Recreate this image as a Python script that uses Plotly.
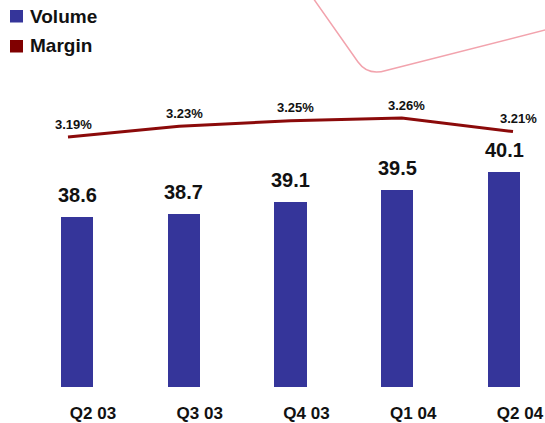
import plotly.graph_objects as go

# Quarterly volume and margin
quarters = ["Q2 03", "Q3 03", "Q4 03", "Q1 04", "Q2 04"]
volume = [38.6, 38.7, 39.1, 39.5, 40.1]
margin = [3.19, 3.23, 3.25, 3.26, 3.21]
margin_labels = ["3.19%", "3.23%", "3.25%", "3.26%", "3.21%"]

W, H = 545, 423
MT, MB = 0, 36
PLOT_H = H - MT - MB

BAR_COLOR = "#35359a"
LINE_COLOR = "#8b0a0a"
FONT = "Liberation Sans, Arial, sans-serif"


def px(x, y):
    """Convert page pixels to paper coordinates."""
    return x / W, (H - MB - y) / PLOT_H


fig = go.Figure()

fig.add_trace(go.Bar(
    x=quarters, y=volume, width=0.3,
    marker=dict(color=BAR_COLOR, line=dict(width=0)),
    base=0, name="Volume", showlegend=False,
    xaxis="x", yaxis="y",
))

fig.add_trace(go.Scatter(
    x=quarters, y=margin, mode="lines",
    line=dict(color=LINE_COLOR, width=3),
    name="Margin", showlegend=False,
    xaxis="x2", yaxis="y2",
))

annotations = []
for q, v in zip(quarters, volume):
    annotations.append(dict(
        x=q, y=v, xref="x", yref="y", text=f"<b>{v:.1f}</b>",
        showarrow=False, yanchor="middle", yshift=21.5,
        font=dict(family=FONT, size=20, color="#111111"),
    ))
for q, m, lab in zip(quarters, margin, margin_labels):
    annotations.append(dict(
        x=q, y=m, xref="x2", yref="y2", text=f"<b>{lab}</b>",
        showarrow=False, yanchor="middle", yshift=13, xshift=5,
        font=dict(family=FONT, size=13, color="#111111"),
    ))

# Legend: coloured squares with bold labels
shapes = []
for name, color, cy in [("Volume", BAR_COLOR, 16), ("Margin", "#800000", 46)]:
    x0, y0 = px(10, cy - 6)
    x1, y1 = px(23, cy + 6.5)
    shapes.append(dict(type="rect", xref="paper", yref="paper",
                       x0=x0, x1=x1, y0=y1, y1=y0,
                       fillcolor=color, line=dict(width=0)))
    tx, ty = px(28, cy)
    annotations.append(dict(
        x=tx, y=ty, xref="paper", yref="paper", text=f"<b>{name}</b>",
        showarrow=False, xanchor="left", yanchor="middle",
        font=dict(family=FONT, size=19, color="#111111"),
    ))

# Decorative rounded corner line at the top right
pts = [px(313, -2), px(358, 62), px(368, 76), px(386, 70.5), px(547, 29.5)]
path = "M {0[0]},{0[1]} L {1[0]},{1[1]} Q {2[0]},{2[1]} {3[0]},{3[1]} L {4[0]},{4[1]}".format(*pts)
shapes.append(dict(type="path", xref="paper", yref="paper", path=path,
                   line=dict(color="#f2a3ad", width=1.5), layer="below"))

# Axis ranges so that bars and line sit at the intended pixel positions
bar_step, bar_x0 = 106.75, 77.0
line_step, line_x0 = 111.25, 68.0
vol_ppu = 30.0
vol_base = 32.93
pct_ppu = 271.0
pct_base = 3.19 - (H - MB - 137) / pct_ppu

fig.update_layout(
    width=W, height=H,
    margin=dict(l=0, r=0, t=MT, b=MB, pad=0),
    paper_bgcolor="white", plot_bgcolor="white",
    bargap=0,
    xaxis=dict(
        type="category", categoryorder="array", categoryarray=quarters,
        range=[-bar_x0 / bar_step, (W - bar_x0) / bar_step],
        showgrid=False, zeroline=False, showline=False, ticks="",
        tickvals=quarters, ticktext=[f"<b>{q}</b>" for q in quarters],
        tickfont=dict(family=FONT, size=17, color="#111111"),
        ticklabelshift=16, ticklabelstandoff=14,
    ),
    xaxis2=dict(
        type="category", categoryorder="array", categoryarray=quarters,
        overlaying="x",
        range=[-line_x0 / line_step, (W - line_x0) / line_step],
        visible=False,
    ),
    yaxis=dict(
        range=[vol_base, vol_base + PLOT_H / vol_ppu],
        visible=False, showgrid=False, zeroline=False,
    ),
    yaxis2=dict(
        overlaying="y",
        range=[pct_base, pct_base + PLOT_H / pct_ppu],
        visible=False, showgrid=False, zeroline=False,
    ),
    annotations=annotations,
    shapes=shapes,
    showlegend=False,
)

fig.write_html("out.html")
